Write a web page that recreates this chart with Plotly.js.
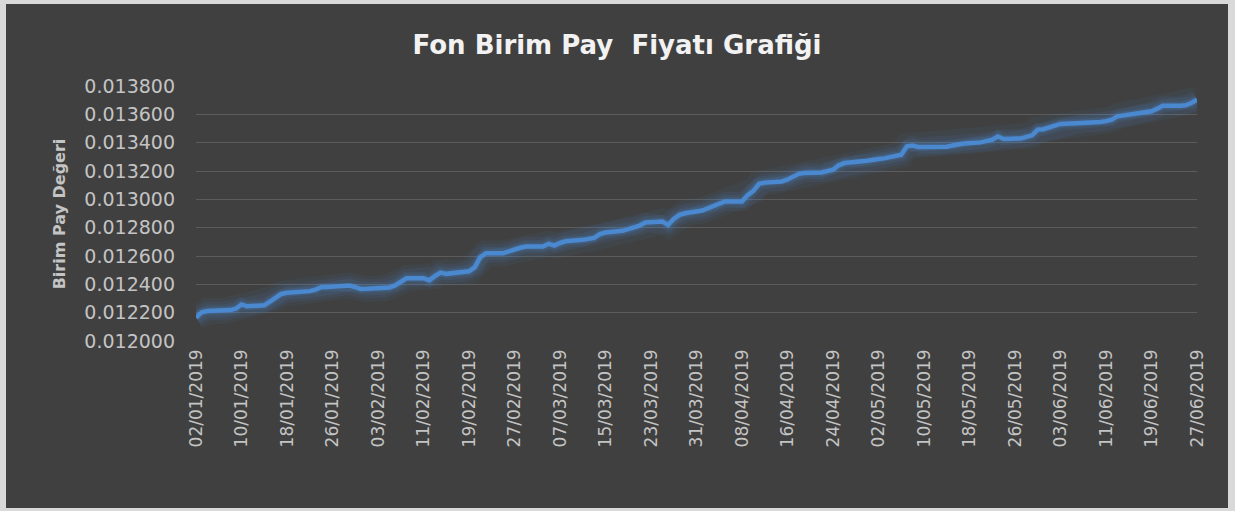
<!DOCTYPE html>
<html>
<head>
<meta charset="utf-8">
<script src="https://cdn.plot.ly/plotly-3.0.1.min.js"></script>
<style>
  html, body { margin: 0; padding: 0; background: #d9d9d9; width: 1235px; height: 511px; overflow: hidden; }
  #chart { position: absolute; left: 6px; top: 4px; width: 1222px; height: 504px; }
</style>
</head>
<body>
<div id="chart"></div>
<script>
const chartTitle = "Fon Birim Pay  Fiyatı Grafiği";
const yAxisTitle = "Birim Pay Değeri";

const dates = [
  "2019-01-02","2019-01-03","2019-01-04","2019-01-07","2019-01-08","2019-01-09","2019-01-10","2019-01-11",
  "2019-01-14","2019-01-15","2019-01-16","2019-01-17","2019-01-18","2019-01-21","2019-01-22","2019-01-23",
  "2019-01-24","2019-01-25","2019-01-28","2019-01-29","2019-01-30","2019-01-31",
  "2019-02-01","2019-02-04","2019-02-05","2019-02-06","2019-02-07","2019-02-08","2019-02-11","2019-02-12",
  "2019-02-13","2019-02-14","2019-02-15","2019-02-18","2019-02-19","2019-02-20","2019-02-21","2019-02-22",
  "2019-02-25","2019-02-26","2019-02-27","2019-02-28",
  "2019-03-01","2019-03-04","2019-03-05","2019-03-06","2019-03-07","2019-03-08","2019-03-11","2019-03-12",
  "2019-03-13","2019-03-14","2019-03-15","2019-03-18","2019-03-19","2019-03-20","2019-03-21","2019-03-22",
  "2019-03-25","2019-03-26","2019-03-27","2019-03-28","2019-03-29",
  "2019-04-01","2019-04-02","2019-04-03","2019-04-04","2019-04-05","2019-04-08","2019-04-09","2019-04-10",
  "2019-04-11","2019-04-12","2019-04-15","2019-04-16","2019-04-17","2019-04-18","2019-04-19","2019-04-22",
  "2019-04-24","2019-04-25","2019-04-26","2019-04-29","2019-04-30",
  "2019-05-02","2019-05-03","2019-05-06","2019-05-07","2019-05-08","2019-05-09","2019-05-10","2019-05-13",
  "2019-05-14","2019-05-15","2019-05-16","2019-05-17","2019-05-20","2019-05-21","2019-05-22","2019-05-23",
  "2019-05-24","2019-05-27","2019-05-28","2019-05-29","2019-05-30","2019-05-31",
  "2019-06-03","2019-06-07","2019-06-10","2019-06-11","2019-06-12","2019-06-13","2019-06-14","2019-06-17",
  "2019-06-18","2019-06-19","2019-06-20","2019-06-21","2019-06-24","2019-06-25","2019-06-26","2019-06-27"
];

const unitPrice = [
  0.012165,0.012203,0.012212,0.012212,0.012218,0.012228,0.012258,0.012245,
  0.012252,0.012278,0.012305,0.012332,0.012340,0.012346,0.012352,0.012362,
  0.012380,0.012382,0.012385,0.012392,0.012380,0.012367,
  0.012368,0.012372,0.012378,0.012392,0.012418,0.012443,0.012443,0.012428,
  0.012458,0.012483,0.012474,0.012485,0.012492,0.012520,0.012592,0.012620,
  0.012620,0.012632,0.012648,0.012658,
  0.012667,0.012667,0.012686,0.012674,0.012692,0.012704,0.012714,0.012720,
  0.012728,0.012755,0.012766,0.012778,0.012788,0.012798,0.012815,0.012836,
  0.012843,0.012820,0.012862,0.012890,0.012902,
  0.012921,0.012936,0.012950,0.012968,0.012985,0.012985,0.013030,0.013060,
  0.013110,0.013118,0.013126,0.013140,0.013158,0.013180,0.013186,0.013190,
  0.013209,0.013240,0.013256,0.013263,0.013272,
  0.013284,0.013289,0.013315,0.013374,0.013379,0.013370,0.013370,0.013370,
  0.013372,0.013380,0.013388,0.013394,0.013402,0.013408,0.013421,0.013444,
  0.013426,0.013430,0.013440,0.013452,0.013492,0.013495,
  0.013532,0.013538,0.013546,0.013552,0.013562,0.013586,0.013592,0.013603,
  0.013612,0.013622,0.013640,0.013661,0.013661,0.013664,0.013680,0.013704
];

const yMin = 0.012, yMax = 0.0138, yStep = 0.0002;
const xStart = "2019-01-02", xEnd = "2019-06-27";

const glow = (w, a) => ({
  x: dates, y: unitPrice, type: "scatter", mode: "lines",
  line: { color: "rgba(74,136,208," + a + ")", width: w },
  hoverinfo: "skip", showlegend: false
});

const traces = [
  glow(26, 0.07), glow(19, 0.09), glow(13, 0.13), glow(8, 0.2),
  { x: dates, y: unitPrice, type: "scatter", mode: "lines",
    line: { color: "#4a88d0", width: 4.5 }, showlegend: false }
];

const layout = {
  width: 1222, height: 504,
  paper_bgcolor: "#404040", plot_bgcolor: "#404040",
  margin: { l: 190, r: 31, t: 82, b: 167 },
  title: { text: chartTitle, x: 0.5, xanchor: "center", yref: "container", y: 0.918, yanchor: "middle",
           font: { family: "DejaVu Sans", size: 26, color: "#f2f2f2", weight: "bold" } },
  xaxis: {
    type: "date", range: [xStart, xEnd], tick0: xStart, dtick: 8 * 86400000,
    tickformat: "%d/%m/%Y", tickangle: -90, showgrid: false, zeroline: false, showline: false,
    ticks: "", ticklabelstandoff: 4, tickfont: { family: "DejaVu Sans", size: 17, color: "#c4c4c4" }
  },
  yaxis: {
    range: [yMin, yMax], dtick: yStep, tick0: yMin, tickformat: ".6f",
    showgrid: true, gridcolor: "#5c5c5c", gridwidth: 1, zeroline: false, showline: false,
    ticks: "", ticklabelstandoff: 20,
    tickfont: { family: "DejaVu Sans", size: 19, color: "#c4c4c4" }
  },
  annotations: [{
    text: yAxisTitle, xref: "paper", yref: "paper", x: -0.136, y: 0.5,
    xanchor: "center", yanchor: "middle", textangle: -90, showarrow: false,
    font: { family: "DejaVu Sans", size: 16, color: "#c4c4c4", weight: "bold" }
  }]
};

Plotly.newPlot("chart", traces, layout, { displayModeBar: false, staticPlot: true });
</script>
</body>
</html>
